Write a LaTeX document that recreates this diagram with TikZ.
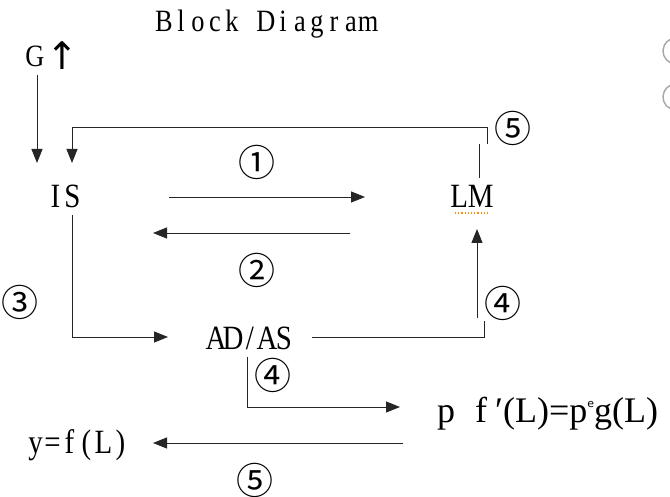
\documentclass[tikz,border=0pt]{standalone}
\usepackage{fontspec}
\setmainfont{Liberation Serif}
\newfontfamily\labfont[FakeStretch=0.85]{Liberation Serif}
\newfontfamily\symfont{DejaVu Sans}
\newfontfamily\cjkfont{Noto Sans CJK SC}
\usetikzlibrary{arrows.meta}
\newlength\monow
\setlength\monow{17pt}
\makeatletter
\newcommand\mono[1]{\@tfor\mych:=#1\do{\makebox[\monow]{\mych}}}
\makeatother
\begin{document}
\begin{tikzpicture}[x=1pt,y=-1pt,
  lab/.style={inner sep=0pt,anchor=base,font=\labfont\fontsize{34}{34}\selectfont},
  ttl/.style={inner sep=0pt,anchor=base,font=\labfont\fontsize{31}{31}\selectfont},
  num/.style={inner sep=0pt,font=\cjkfont\fontsize{37}{37}\selectfont},
  ln/.style={line width=0.9pt,black!85},
  arr/.style={ln,-{Triangle[length=14pt,width=11pt]}}]
\fill[white] (0,0) rectangle (670,497);
\useasboundingbox (0,0) rectangle (670,497);
% texts
\node[ttl] (title) at (266,32) {\mono{Block~Diagram}};
\node[lab,font=\labfont\fontsize{31}{31}\selectfont] (G) at (35,67) {G};
\node[inner sep=0pt,anchor=base,font=\symfont\fontsize{38}{38}\selectfont] (up) at (62,70) {↑};
\node[lab] (IS) at (64,208) {\mono{IS}};
\node[lab] (LM) at (472,208) {LM};
\node[lab] (ADAS) at (250,350) {\mono{AD/AS}};
\node[lab] (yf) at (78,453) {\mono{y=f(L)}};
\node[inner sep=0pt,anchor=base west,font=\fontsize{36}{36}\selectfont] (pf) at (437,422)
  {p\hspace{20pt}f\hspace{8pt}′(L)=p{\symfont\fontsize{11}{11}\selectfont\raisebox{15pt}{e}}g(L)};
% circled numbers
\node[num] (n1) at (257,162) {①};
\node[num] (n2) at (257,270) {②};
\node[num] (n3) at (20,302) {③};
\node[num] (n4a) at (503,303) {④};
\node[num] (n4b) at (273,375) {④};
\node[num] (n5a) at (513,128) {⑤};
\node[num] (n5b) at (255,480) {⑤};
% spell-check underline under LM
\draw[orange!90!yellow,dotted,line width=1.2pt] (455,213) -- (490,213);
% partial grey circles at right edge
\coordinate (gc1) at (676,51);
\coordinate (gc2) at (676,97);
\draw[gray!70,line width=1.4pt] (gc1) ++(115:13) arc[start angle=115,end angle=245,radius=13];
\draw[gray!70,line width=1.4pt] (gc2) ++(115:13) arc[start angle=115,end angle=245,radius=13];
% connectors
\coordinate (gA) at (37,75);
\coordinate (gB) at (37,163);
\draw[arr] (gA) -- (gB);
\coordinate (l5a) at (487,144);
\coordinate (l5b) at (72,163);
\draw[arr] (l5a) -- ++(0,-17) -| (l5b);
\coordinate (lmB) at (479,178);
\coordinate (lmT) at (479,144);
\draw[ln] (lmB) -- (lmT);
\coordinate (a1s) at (169,197);
\coordinate (a1e) at (365,197);
\draw[arr] (a1s) -- (a1e);
\coordinate (a2s) at (350,233);
\coordinate (a2e) at (153,233);
\draw[arr] (a2s) -- (a2e);
\coordinate (a3s) at (72,215);
\coordinate (a3e) at (168,337);
\draw[arr] (a3s) |- (a3e);
\coordinate (a4s) at (312,337);
\coordinate (a4e) at (484,321);
\draw[ln] (a4s) -| (a4e);
\coordinate (a4u) at (477,318);
\coordinate (a4t) at (477,229);
\draw[arr] (a4u) -- (a4t);
\coordinate (a4d) at (247,357);
\coordinate (a4f) at (400,407);
\draw[arr] (a4d) |- (a4f);
\coordinate (a5s) at (403,443);
\coordinate (a5e) at (153,443);
\draw[arr] (a5s) -- (a5e);
\end{tikzpicture}
\end{document}
